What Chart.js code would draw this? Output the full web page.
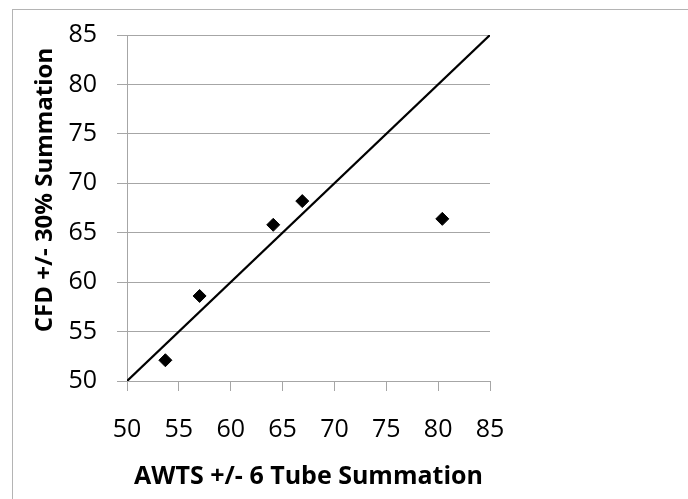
<!DOCTYPE html>
<html>
<head>
<meta charset="utf-8">
<script src="https://cdn.jsdelivr.net/npm/chart.js@4.4.0/dist/chart.umd.min.js"></script>
<style>
  html, body { margin: 0; padding: 0; background: #fff; }
  #wrap { position: relative; width: 688px; height: 499px; overflow: hidden; }
  #frame {
    position: absolute; left: 12px; top: 9px; width: 700px; height: 520px;
    border-left: 1px solid #b4b4b4; border-top: 1px solid #b4b4b4;
  }
  #mycanvas { position: absolute; left: 0; top: 0; }
</style>
</head>
<body>
<div id="wrap">
  <div id="frame"></div>
  <canvas id="mycanvas" width="688" height="499"></canvas>
</div>
<script>
// measured values
var awts = [53.7, 57.0, 64.1, 66.9, 80.4];
var cfd = [52.1, 58.6, 65.8, 68.2, 66.4];

// 1:1 reference line
var lineX = [50, 85];
var lineY = [50, 85];

var xTitle = 'AWTS +/- 6 Tube Summation';
// en spaces in front push the rotated title a bit up the axis
var yTitle = '\u2002\u2002\u2002CFD +/- 30% Summation';

var points = [];
for (var i in awts) {
	points.push({x: awts[i], y: cfd[i]});
}
var diag = [];
for (var j in lineX) {
	diag.push({x: lineX[j], y: lineY[j]});
}

var fontName = '"Open Sans", sans-serif';
var gridGray = '#a6a6a6';

var chartdata = {
	datasets: [
		{
			type: 'scatter',
			label: 'points',
			data: points,
			pointStyle: 'rectRot',
			pointRadius: 6.5,
			pointBorderWidth: 1,
			backgroundColor: '#000',
			borderColor: '#000'
		},
		{
			type: 'line',
			label: 'diagonal',
			data: diag,
			borderColor: '#000',
			borderWidth: 2.25,
			pointRadius: 0,
			fill: false
		}
	]
};

var ctx = document.getElementById('mycanvas');

var scatterChart = new Chart(ctx, {
	type: 'scatter',
	data: chartdata,
	options: {
		responsive: false,
		animation: false,
		layout: {
			padding: {left: 0, top: 33, right: 198, bottom: 0}
		},
		plugins: {
			legend: {display: false},
			tooltip: {enabled: false}
		},
		scales: {
			x: {
				type: 'linear',
				min: 50,
				max: 85,
				afterFit: function(scale) { scale.height = 118; },
				ticks: {
					stepSize: 5,
					color: '#000',
					padding: 24,
					font: {family: fontName, size: 25}
				},
				grid: {
					drawOnChartArea: false,
					drawTicks: true,
					tickLength: 10,
					color: gridGray
				},
				border: {display: true, color: gridGray, width: 1},
				title: {
					display: true,
					text: xTitle,
					color: '#000',
					font: {family: fontName, size: 25, weight: 'bold'},
					padding: {top: 0, bottom: 7}
				}
			},
			y: {
				type: 'linear',
				min: 50,
				max: 85,
				afterFit: function(scale) { scale.width = 127; },
				ticks: {
					stepSize: 5,
					color: '#000',
					padding: 20,
					font: {family: fontName, size: 25}
				},
				grid: {
					drawOnChartArea: true,
					drawTicks: true,
					tickLength: 10,
					color: gridGray
				},
				border: {display: true, color: gridGray, width: 1},
				title: {
					display: true,
					text: yTitle,
					color: '#000',
					font: {family: fontName, size: 24, weight: 'bold'},
					padding: {top: 31, bottom: 0}
				}
			}
		}
	}
});
</script>
</body>
</html>
